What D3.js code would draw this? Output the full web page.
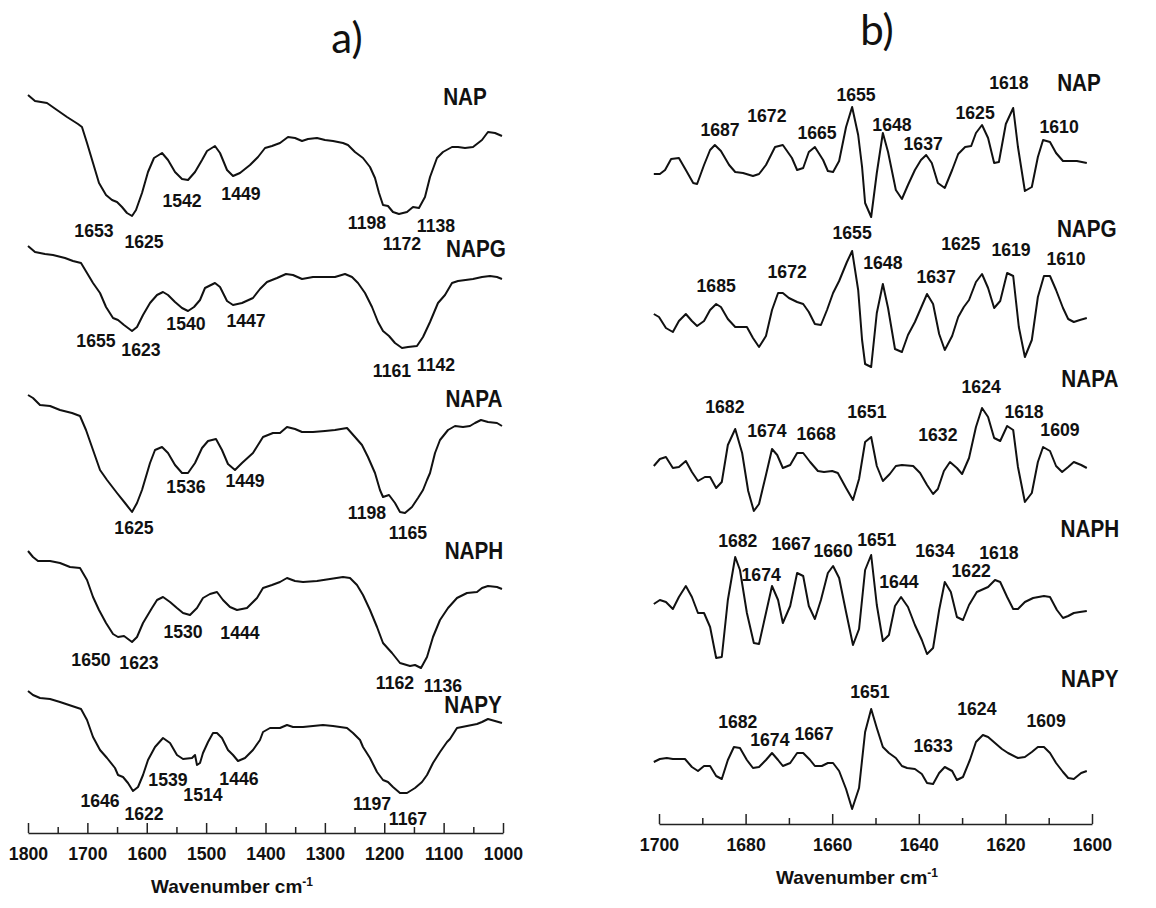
<!DOCTYPE html>
<html>
<head>
<meta charset="utf-8">
<script src="https://cdn.jsdelivr.net/npm/d3@7"></script>
<style>
  body { margin: 0; background: #fff; }
  text { fill: #111; }
</style>
</head>
<body>
<svg id="chart" width="1156" height="908"></svg>
<script>
// ---------- categories ----------
const samples = ["NAP", "NAPG", "NAPA", "NAPH", "NAPY"];

// ---------- tick labels ----------
const ftirTicks = [1800, 1700, 1600, 1500, 1400, 1300, 1200, 1100, 1000];
const ftirMinor = [1750, 1650, 1550, 1450, 1350, 1250, 1150, 1050];
const derivTicks = [1700, 1680, 1660, 1640, 1620, 1600];
const derivMinor = [1690, 1670, 1650, 1630, 1610];

// ---------- panel a) FTIR spectra (wavenumber, relative intensity a.u.) ----------
const NAP_a_wn = [1800,1788.2,1768.0,1751.2,1734.3,1715.8,1709.1,1700.6,1690.5,1680.4,1668.6,1658.5,1650.1,1641.7,1633.3,1624.8,1618.1,1608.0,1597.9,1587.8,1574.3,1564.2,1552.4,1540.6,1530.5,1518.7,1506.9,1498.5,1485.1,1476.6,1464.8,1454.7,1443.0,1426.1,1412.6,1400.8,1389.1,1375.6,1362.1,1350.3,1338.5,1328.4,1313.3,1299.8,1286.3,1269.5,1261.1,1249.3,1235.8,1224.0,1215.6,1208.8,1202.1,1193.7,1185.3,1175.2,1161.7,1151.6,1141.5,1131.4,1122.9,1111.2,1101.1,1085.9,1075.8,1064.0,1050.5,1035.4,1025.3,1013.5,1001.7];
const NAP_a_val = [45,39,37,30,23,16,13,-3,-23,-43,-55,-60,-62,-67,-73,-76,-70,-53,-32,-18,-13,-20,-32,-39,-40,-32,-20,-11,-6,-13,-30,-36,-33,-25,-17,-8,-6,-3,3,2,-1,1,2,0,-1,-3,-5,-12,-18,-27,-38,-53,-65,-66,-72,-74,-72,-67,-68,-57,-37,-18,-12,-7,-7,-8,-7,0,8,7,4];

const NAPG_a_wn = [1800,1788.2,1771.4,1757.9,1737.7,1724.2,1710.7,1700.6,1690.5,1678.7,1668.6,1656.8,1648.4,1638.3,1624.8,1616.4,1606.3,1594.5,1582.7,1572.6,1564.2,1552.4,1540.6,1530.5,1520.4,1510.3,1501.9,1485.1,1476.6,1464.8,1454.7,1439.6,1421.1,1409.3,1397.5,1380.6,1365.5,1353.7,1338.5,1320.0,1299.8,1283.0,1266.1,1254.3,1244.2,1232.4,1220.6,1210.5,1202.1,1192.0,1181.9,1170.1,1160.0,1144.9,1134.7,1122.9,1109.5,1097.7,1085.9,1075.8,1050.5,1035.4,1021.9,1010.1,1001.7];
const NAPG_a_val = [34,28,26,25,22,19,17,7,-3,-13,-27,-38,-40,-45,-51,-47,-35,-23,-15,-12,-15,-22,-28,-31,-27,-20,-8,-3,-7,-21,-25,-23,-18,-9,-2,2,6,5,1,3,3,3,6,3,-3,-13,-27,-42,-51,-56,-63,-68,-67,-66,-57,-42,-23,-15,-3,-1,1,3,4,3,1];

const NAPA_a_wn = [1800,1791.6,1779.8,1762.9,1746.1,1725.9,1712.4,1702.3,1690.5,1678.7,1666.9,1650.1,1636.6,1624.8,1616.4,1608.0,1594.5,1586.1,1574.3,1564.2,1552.4,1540.6,1530.5,1518.7,1506.9,1496.8,1483.4,1473.3,1463.2,1451.4,1439.6,1421.1,1404.2,1387.4,1375.6,1363.8,1350.3,1338.5,1320.0,1299.8,1283.0,1262.7,1249.3,1237.5,1227.4,1215.6,1207.2,1202.1,1192.0,1181.9,1173.5,1165.1,1153.3,1143.2,1134.7,1128.0,1122.9,1114.5,1106.1,1092.6,1080.8,1067.4,1055.6,1047.2,1037.1,1025.3,1010.1,1001.7];
const NAPA_a_val = [35,32,25,24,20,17,14,0,-20,-40,-50,-63,-73,-82,-73,-60,-33,-20,-17,-23,-35,-43,-43,-33,-18,-11,-9,-20,-34,-40,-33,-23,-7,-3,-3,3,1,-2,-2,-1,0,2,-7,-15,-27,-43,-60,-67,-65,-73,-82,-83,-77,-68,-60,-50,-43,-23,-10,0,4,3,4,7,10,8,7,4];

const NAPH_a_wn = [1800,1791.6,1783.2,1762.9,1746.1,1729.3,1712.4,1700.6,1690.5,1680.4,1668.6,1656.8,1648.4,1638.3,1624.8,1616.4,1606.3,1591.2,1582.7,1572.6,1560.8,1549.1,1538.9,1527.2,1515.4,1505.3,1493.5,1481.7,1471.6,1459.8,1448.0,1431.2,1414.3,1404.2,1389.1,1375.6,1363.8,1350.3,1336.8,1313.3,1291.4,1269.5,1257.7,1245.9,1235.8,1224.0,1212.2,1202.1,1186.9,1173.5,1156.6,1148.2,1138.1,1128.0,1117.9,1106.1,1092.6,1077.5,1060.7,1043.8,1035.4,1025.3,1010.1,1001.7];
const NAPH_a_val = [29,23,19,19,17,13,12,0,-17,-30,-43,-54,-57,-56,-62,-57,-43,-28,-20,-17,-22,-28,-33,-35,-28,-18,-14,-12,-20,-27,-30,-28,-18,-8,-5,-2,2,-1,-2,-1,1,3,2,-5,-15,-30,-47,-63,-73,-83,-86,-85,-88,-77,-57,-40,-28,-18,-13,-12,-8,-6,-7,-9];

const NAPY_a_wn = [1800,1791.6,1779.8,1762.9,1746.1,1725.9,1710.7,1700.6,1690.5,1678.7,1666.9,1653.5,1648.4,1640.0,1631.6,1623.2,1614.7,1606.3,1597.9,1586.1,1572.6,1560.8,1549.1,1538.9,1523.8,1518.7,1515.4,1510.3,1505.3,1496.8,1488.4,1481.7,1473.3,1463.2,1454.7,1446.3,1434.5,1421.1,1409.3,1404.2,1392.4,1375.6,1363.8,1353.7,1336.8,1320.0,1303.2,1286.3,1262.7,1252.6,1240.8,1235.8,1224.0,1212.2,1202.1,1193.7,1185.3,1173.5,1161.7,1148.2,1136.4,1128.0,1117.9,1106.1,1094.3,1089.3,1077.5,1060.7,1043.8,1035.4,1025.3,1013.5,1001.7];
const NAPY_a_val = [34,30,27,26,23,19,16,5,-12,-25,-33,-43,-50,-52,-58,-66,-62,-50,-35,-22,-13,-18,-30,-34,-33,-30,-40,-38,-28,-17,-8,-8,-13,-25,-30,-36,-33,-25,-15,-7,-3,-3,0,-2,-2,-1,0,-1,-3,-8,-15,-22,-33,-47,-55,-57,-62,-68,-68,-63,-57,-50,-38,-27,-17,-14,-3,-1,1,3,6,4,2];

// ---------- panel b) second derivative (wavenumber, a.u.) ----------
const NAP_b_wn = [1701.2,1699.8,1698.6,1697.2,1695.4,1693.8,1692.1,1691.2,1689.6,1688.2,1687.1,1685.7,1683.8,1682.4,1680.6,1678.3,1676.9,1675.3,1673.2,1671.4,1669.3,1668.1,1666.7,1665.4,1664.0,1662.1,1661.0,1659.8,1658.4,1656.8,1655.4,1654.0,1653.1,1652.4,1651.0,1649.7,1648.3,1647.1,1645.3,1643.9,1642.5,1640.9,1639.5,1638.3,1637.0,1635.6,1634.0,1632.3,1630.9,1629.3,1627.9,1626.8,1625.4,1624.0,1622.6,1621.5,1619.9,1618.2,1617.1,1615.5,1613.9,1612.5,1611.3,1609.7,1608.3,1606.7,1605.1,1603.5,1601.2];
const NAP_b_val = [-4,-4,0,11,12,0,-13,-14,5,20,25,19,5,-2,-3,-6,-4,5,23,25,12,0,2,18,23,10,-1,-2,9,43,63,35,3,-33,-47,-3,37,18,-20,-29,-15,0,10,15,7,-13,-18,0,16,23,24,37,45,32,7,8,46,62,23,-21,-17,13,30,28,17,9,9,9,7];

const NAPG_b_wn = [1701.2,1700.0,1698.4,1696.8,1695.4,1693.8,1692.4,1691.2,1689.6,1688.2,1686.8,1685.7,1684.1,1682.4,1679.7,1678.3,1676.9,1675.3,1673.9,1672.5,1671.4,1670.0,1668.1,1666.7,1665.4,1664.0,1662.6,1661.2,1659.8,1658.4,1656.6,1655.4,1654.0,1653.1,1652.4,1651.0,1649.7,1648.3,1647.1,1645.5,1643.9,1642.5,1640.9,1639.3,1638.1,1636.7,1635.3,1634.0,1632.3,1630.9,1629.6,1628.4,1626.8,1625.4,1624.0,1622.6,1621.2,1619.6,1618.2,1616.9,1615.5,1613.9,1612.5,1611.1,1609.7,1608.3,1606.7,1605.5,1604.2,1602.8,1601.2];
const NAPG_b_val = [6,3,-8,-12,-1,6,-1,-6,-1,10,16,13,1,-7,-7,-18,-27,-16,10,27,27,22,18,16,8,-4,-5,10,27,39,58,69,30,-20,-44,-47,7,36,12,-29,-32,-15,-2,14,26,16,-14,-30,-16,3,13,20,38,46,32,12,19,47,44,-7,-37,-20,23,44,44,30,12,1,-2,0,2];

const NAPA_b_wn = [1701.2,1699.8,1698.4,1696.8,1695.4,1693.8,1692.4,1691.0,1689.4,1688.2,1686.8,1685.5,1684.1,1682.4,1680.8,1679.4,1678.1,1676.9,1675.3,1673.9,1672.7,1671.4,1669.7,1668.1,1666.7,1665.1,1663.3,1661.9,1660.0,1658.7,1656.8,1655.2,1653.8,1652.4,1651.0,1649.7,1648.3,1646.7,1645.3,1643.9,1641.3,1639.7,1638.1,1636.7,1635.6,1634.2,1632.8,1631.2,1630.0,1628.4,1626.8,1625.4,1624.0,1622.6,1621.2,1619.6,1618.2,1617.1,1615.5,1613.9,1612.5,1611.3,1609.7,1608.3,1606.9,1605.5,1604.2,1602.5,1601.2];
const NAPA_b_val = [4,11,13,2,3,9,-2,-11,-7,-7,-18,-12,25,41,17,-21,-41,-34,-5,21,15,2,5,17,17,8,-1,-2,-1,-3,-18,-30,-9,28,33,4,-11,-4,4,5,4,-3,-15,-24,-19,-1,8,2,-4,12,43,62,53,32,29,44,40,3,-32,-23,8,23,19,4,-2,3,8,5,2];

const NAPH_b_wn = [1701.2,1699.8,1698.4,1696.8,1695.4,1693.8,1692.4,1691.0,1689.6,1688.2,1686.8,1685.5,1684.1,1682.4,1681.3,1679.7,1678.1,1676.9,1675.3,1673.9,1672.5,1671.4,1669.7,1668.1,1666.7,1665.4,1664.0,1662.6,1661.0,1659.8,1658.4,1656.8,1655.2,1653.8,1652.4,1651.0,1649.7,1648.3,1646.9,1645.5,1644.1,1642.5,1640.9,1639.3,1638.1,1636.7,1635.3,1634.0,1632.6,1631.2,1629.8,1628.4,1626.6,1624.0,1622.4,1621.2,1619.6,1618.2,1617.1,1615.5,1613.6,1611.1,1609.7,1608.1,1606.7,1605.5,1604.2,1602.8,1601.2];
const NAPH_b_val = [6,10,8,1,13,24,13,-3,-3,-17,-48,-47,10,53,40,-3,-33,-34,-3,24,10,-13,4,37,34,4,-9,10,37,44,32,-2,-35,-19,40,55,5,-31,-25,4,13,3,-15,-30,-44,-38,0,28,18,-7,-10,5,18,23,30,28,13,1,1,8,12,14,13,0,-8,-6,-3,-2,-1];

const NAPY_b_wn = [1701.2,1699.8,1698.2,1696.8,1694.0,1692.4,1691.0,1689.6,1688.2,1686.8,1685.5,1684.1,1682.7,1681.3,1679.7,1678.3,1676.9,1675.3,1673.9,1672.5,1671.4,1669.7,1668.1,1666.7,1665.1,1664.0,1662.4,1661.0,1659.8,1658.4,1656.8,1655.4,1653.8,1652.4,1651.0,1649.7,1648.3,1646.9,1645.3,1643.9,1642.7,1640.9,1639.3,1638.1,1636.7,1635.3,1634.0,1632.3,1631.2,1629.8,1628.2,1626.8,1625.2,1624.0,1622.4,1620.8,1619.4,1617.1,1615.5,1613.9,1612.5,1611.1,1609.7,1608.3,1606.7,1605.5,1604.2,1602.5,1601.2];
const NAPY_b_val = [-2,1,2,1,1,-7,-11,-6,-6,-16,-19,0,13,12,0,-8,-7,0,7,0,-6,-3,7,7,0,-6,-6,-3,-3,-11,-29,-49,-28,28,51,32,13,7,2,-6,-8,-9,-14,-23,-24,-13,-7,-11,-20,-17,0,18,25,23,17,11,7,2,3,8,13,13,7,-3,-12,-18,-19,-13,-11];

// ---------- peak annotations [text, wavenumber, level] ----------
const NAP_a_labels  = [["1653",1688.9,-90],["1625",1604.6,-101],["1542",1540.6,-60],["1449",1441.3,-53],["1198",1229.1,-82],["1172",1170.1,-103],["1138",1112.9,-85]];
const NAPG_a_labels = [["1655",1685.5,-60],["1623",1609.7,-69],["1540",1533.9,-43],["1447",1432.8,-40],["1161",1187.0,-90],["1142",1112.9,-84]];
const NAPA_a_labels = [["1625",1621.5,-97],["1536",1533.9,-56],["1449",1434.5,-50],["1198",1229.1,-82],["1165",1160.0,-102]];
const NAPH_a_labels = [["1650",1693.9,-79],["1623",1613.1,-82],["1530",1538.9,-51],["1444",1443.0,-52],["1162",1181.9,-102],["1136",1101.1,-105]];
const NAPY_a_labels = [["1646",1678.7,-75],["1622",1604.6,-88],["1539",1564.2,-54],["1514",1505.3,-69],["1446",1444.7,-53],["1197",1220.6,-78],["1167",1160.0,-93]];

const NAP_b_labels  = [["1687",1685.9,41],["1672",1675.1,55],["1665",1663.5,38],["1655",1654.5,76],["1648",1646.2,46],["1637",1639.0,27],["1625",1627.0,58],["1618",1619.2,88],["1610",1607.6,44]];
const NAPG_b_labels = [["1685",1686.8,35],["1672",1670.4,49],["1655",1655.4,88],["1648",1648.3,58],["1637",1636.0,44],["1625",1630.3,77],["1619",1618.7,71],["1610",1606.0,62]];
const NAPA_b_labels = [["1682",1684.8,64],["1674",1675.1,40],["1668",1663.7,37],["1651",1652.0,59],["1632",1635.6,36],["1624",1625.6,84],["1618",1615.7,59],["1609",1607.4,41]];
const NAPH_b_labels = [["1682",1681.8,70],["1674",1676.4,36],["1667",1669.5,67],["1660",1659.8,60],["1651",1649.7,71],["1644",1644.6,29],["1634",1636.3,60],["1622",1627.9,40],["1618",1621.5,58]];
const NAPY_b_labels = [["1682",1681.8,39],["1674",1674.4,21],["1667",1664.2,27],["1651",1651.3,69],["1633",1636.7,15],["1624",1626.6,52],["1609",1610.6,40]];

// sample-name positions [wavenumber, level]
const namePosA = [[1064.0,43],[1045.5,31],[1048.9,31],[1048.9,29],[1050.5,20]];
const namePosB = [[1603.0,87],[1601.2,91],[1600.5,91],[1600.5,81],[1600.5,81]];

// vertical stacking offsets of each trace
const offsetsA = [700, 560, 410, 260, 115];
const offsetsB = [670, 520, 370, 230, 80];

// ---------- assemble series ----------
const seriesA = [
  [NAP_a_wn, NAP_a_val, NAP_a_labels], [NAPG_a_wn, NAPG_a_val, NAPG_a_labels],
  [NAPA_a_wn, NAPA_a_val, NAPA_a_labels], [NAPH_a_wn, NAPH_a_val, NAPH_a_labels],
  [NAPY_a_wn, NAPY_a_val, NAPY_a_labels]
];
const seriesB = [
  [NAP_b_wn, NAP_b_val, NAP_b_labels], [NAPG_b_wn, NAPG_b_val, NAPG_b_labels],
  [NAPA_b_wn, NAPA_b_val, NAPA_b_labels], [NAPH_b_wn, NAPH_b_val, NAPH_b_labels],
  [NAPY_b_wn, NAPY_b_val, NAPY_b_labels]
];

const FONT = "'Liberation Sans', Arial, Helvetica, sans-serif";
const SQ = 0.93; // slight horizontal condensing of the bold labels
const svg = d3.select("#chart");

const xA = d3.scaleLinear().domain([1800, 1000]).range([28, 503]);
const xB = d3.scaleLinear().domain([1700, 1600]).range([659, 1092]);
const y  = d3.scaleLinear().domain([0, 800]).range([840, 40]);

function drawPanel(series, x, offsets, namePos) {
  const g = svg.append("g");
  series.forEach(([wn, val, labels], i) => {
    const n = Math.min(wn.length, val.length);
    const pts = d3.range(n).map(k => [wn[k], val[k]]);
    const line = d3.line().x(d => x(d[0])).y(d => y(offsets[i] + d[1]));
    g.append("path")
      .attr("d", line(pts))
      .attr("fill", "none")
      .attr("stroke", "#111")
      .attr("stroke-width", 2)
      .attr("stroke-linejoin", "round");
    g.selectAll(null).data(labels).enter().append("text")
      .attr("transform", d => `translate(${x(d[1])},${y(offsets[i] + d[2])}) scale(${SQ},1)`)
      .attr("dy", "0.36em")
      .attr("text-anchor", "middle")
      .style("font-family", FONT)
      .style("font-weight", "bold")
      .style("font-size", "19px")
      .text(d => d[0]);
    g.append("text")
      .attr("transform", `translate(${x(namePos[i][0])},${y(offsets[i] + namePos[i][1])}) scale(0.9,1)`)
      .attr("dy", "0.36em")
      .attr("text-anchor", "middle")
      .style("font-family", FONT)
      .style("font-weight", "bold")
      .style("font-size", "23px")
      .text(samples[i]);
  });
}

drawPanel(seriesA, xA, offsetsA, namePosA);
drawPanel(seriesB, xB, offsetsB, namePosB);

function drawAxis(x, ticks, minor, yPos, title, titleX) {
  const major = d3.axisBottom(x).tickValues(ticks).tickSize(-10).tickSizeOuter(0)
    .tickPadding(14).tickFormat(d3.format("d"));
  const ga = svg.append("g").attr("transform", `translate(0,${yPos})`).call(major);
  ga.select(".domain").attr("stroke", "#222").attr("stroke-width", 1.5);
  ga.selectAll(".tick line").attr("stroke", "#222").attr("stroke-width", 1.5);
  ga.selectAll(".tick text").attr("fill", "#111")
    .attr("transform", `scale(${SQ},1)`)
    .style("font-family", FONT).style("font-weight", "bold").style("font-size", "19px");
  const mn = d3.axisBottom(x).tickValues(minor).tickSize(-6).tickFormat("");
  const gm = svg.append("g").attr("transform", `translate(0,${yPos})`).call(mn);
  gm.select(".domain").remove();
  gm.selectAll(".tick line").attr("stroke", "#222").attr("stroke-width", 1.5);

  const t = svg.append("text")
    .attr("x", titleX).attr("y", yPos + 60)
    .attr("text-anchor", "middle")
    .style("font-family", FONT).style("font-weight", "bold").style("font-size", "19px");
  t.append("tspan").text(title);
  t.append("tspan").attr("dy", "-7").style("font-size", "12px").text("-1");
}

drawAxis(xA, ftirTicks, ftirMinor, 833, "Wavenumber cm", 232);
drawAxis(xB, derivTicks, derivMinor, 824, "Wavenumber cm", 857);

// panel titles
svg.append("text").attr("x", 347).attr("y", 53).attr("text-anchor", "middle")
  .style("font-family", "Lato, 'Open Sans', sans-serif").style("font-size", "42px").text("a)");
svg.append("text").attr("x", 877).attr("y", 45).attr("text-anchor", "middle")
  .style("font-family", "Lato, 'Open Sans', sans-serif").style("font-size", "42px").text("b)");
</script>
</body>
</html>
